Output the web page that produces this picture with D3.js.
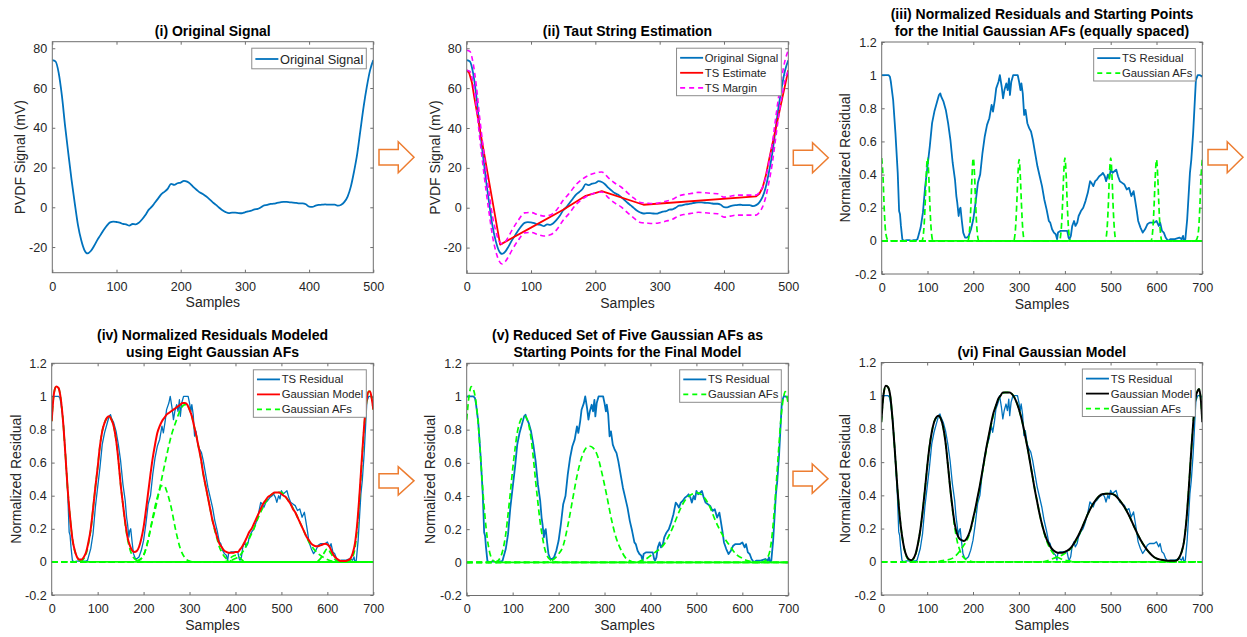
<!DOCTYPE html>
<html>
<head>
<meta charset="utf-8">
<script src="https://cdn.jsdelivr.net/npm/d3@7"></script>
<style>
  html, body { margin: 0; padding: 0; background: #fff; }
  svg { display: block; font-family: "Liberation Sans", Arial, Helvetica, sans-serif; }
</style>
</head>
<body>
<svg id="fig" width="1247" height="637"></svg>
<script>
/* Six-panel figure: PVDF signal -> taut string -> residual -> Gaussian AF model.
   All curves are [sample, value] pairs. */

// ---- axis ticks ----
var ticksSamples500 = [0, 100, 200, 300, 400, 500];
var ticksSamples700 = [0, 100, 200, 300, 400, 500, 600, 700];
var ticksSignal = [-20, 0, 20, 40, 60, 80];
var ticksResidual = [-0.2, 0, 0.2, 0.4, 0.6, 0.8, 1, 1.2];
var domSignal = [-32.9, 83.3];
var domResidual = [-0.2, 1.2];

// ---- (i)/(ii) original PVDF signal (mV) ----
var signal = [[0,74],[5,73.4],[10,67.5],[15,56],[20,40.7],[25,27],[30,13.8],[35,2],[40,-9],[45,-16.5],[50,-21.5],[55,-23.2],[60,-22],[65,-19.5],[70,-16.5],[75,-14],[80,-11.4],[85,-9.2],[90,-7.6],[95,-7.2],[100,-7.4],[105,-7.7],[110,-8.4],[115,-8.6],[120,-9.2],[125,-8.4],[130,-8.6],[135,-7.7],[140,-6],[145,-3.9],[150,-1.3],[155,0.3],[160,2.4],[165,4.5],[170,6.6],[175,7.9],[180,9.4],[185,11.8],[190,11.3],[195,12.1],[200,12.4],[205,13.3],[210,12.9],[215,11.8],[220,10.1],[225,8.7],[230,7.4],[235,6.6],[240,5.4],[245,4],[250,2.5],[255,1.2],[260,-0.2],[265,-1.5],[270,-2.4],[275,-2.9],[280,-2.7],[285,-2.7],[290,-2.9],[295,-3],[300,-2.5],[305,-2],[310,-1.7],[315,-1],[320,-0.8],[325,0],[330,1],[335,1.2],[340,1.7],[345,1.8],[350,2.2],[355,2.5],[360,2.7],[365,2.7],[370,2.5],[375,2.4],[380,2.2],[385,2],[390,2],[395,1.5],[400,0.3],[405,0.2],[410,0.8],[415,1.2],[420,1.3],[425,1.5],[430,1.3],[435,1.3],[440,1.3],[445,0.8],[450,1.3],[455,2.7],[460,5.4],[465,10.4],[470,18],[475,27],[480,39],[485,50.8],[490,60.8],[495,69],[500,74]];

// ---- (ii) taut string estimate and margins ----
var tsEstimate = [[0,69],[4,67.5],[8,63],[12,55],[52,-18.5],[100,-10],[150,-1],[185,6],[210,8.3],[275,1.5],[450,5.7],[455,7],[460,10],[465,16],[470,24],[480,39],[490,54],[500,69]];
var tsMarginUpper = [[0,79],[5,78.4],[10,72.5],[15,61],[20,45.7],[25,32],[30,18.8],[35,7],[40,-4],[45,-11.5],[50,-16.5],[55,-18.2],[60,-17],[65,-14.5],[70,-11.5],[80,-6.4],[90,-2.6],[100,-2.4],[110,-3.4],[120,-4.2],[130,-3.6],[140,-1],[150,3.7],[160,7.4],[170,11.6],[180,14.4],[190,16.3],[200,17.4],[210,17.9],[220,15.1],[230,12.4],[240,10.4],[250,7.5],[260,4.8],[270,2.6],[280,2.3],[290,2.1],[300,2.5],[310,3.3],[320,4.2],[330,6],[340,6.7],[350,7.2],[360,7.7],[370,7.5],[380,7.2],[390,7],[400,5.3],[410,5.8],[420,6.3],[430,6.3],[440,6.3],[450,6.3],[455,7.7],[460,10.4],[465,15.4],[470,23],[475,32],[480,44],[485,55.8],[490,65.8],[495,74],[500,79]];
var tsMarginLower = [[0,69],[5,68.4],[10,62.5],[15,51],[20,35.7],[25,22],[30,8.8],[35,-3],[40,-14],[45,-21.5],[50,-26.5],[55,-28.2],[60,-27],[65,-24.5],[70,-21.5],[80,-16.4],[90,-12.6],[100,-12.4],[110,-13.4],[120,-14.2],[130,-13.6],[140,-11],[150,-6.3],[160,-2.6],[170,1.6],[180,4.4],[190,6.3],[200,7.4],[210,7.9],[220,5.1],[230,2.4],[240,0.4],[250,-2.5],[260,-5.2],[270,-7.4],[280,-7.7],[290,-7.9],[300,-7.5],[310,-6.7],[320,-5.8],[330,-4],[340,-3.3],[350,-2.8],[360,-2.3],[370,-2.5],[380,-2.8],[390,-3],[400,-4.7],[410,-4.2],[420,-3.7],[430,-3.7],[440,-3.7],[450,-3.7],[455,-2.3],[460,0.4],[465,5.4],[470,13],[475,22],[480,34],[485,45.8],[490,55.8],[495,64],[500,69]];

// ---- (iii)-(vi) normalized TS residual ----
var tsResidual = [[0,1],[5,1],[10,1],[15,1],[18,0.99],[20,0.96],[25,0.85],[30,0.65],[35,0.41],[38,0.18],[40,0.16],[42,0.09],[45,0.01],[48,0],[55,0.005],[60,0.005],[65,0],[70,0.005],[75,0.005],[78,0.01],[80,0.03],[85,0.08],[90,0.17],[95,0.33],[100,0.45],[105,0.57],[110,0.71],[115,0.78],[120,0.83],[125,0.88],[128,0.89],[130,0.87],[135,0.84],[140,0.79],[145,0.71],[150,0.61],[155,0.47],[160,0.37],[163,0.27],[165,0.23],[168,0.15],[170,0.19],[172,0.2],[175,0.12],[178,0.05],[182,0.02],[186,0.02],[190,0.03],[195,0.07],[200,0.13],[205,0.23],[210,0.35],[215,0.4],[220,0.53],[225,0.63],[230,0.7],[235,0.74],[240,0.82],[243,0.78],[247,0.85],[250,0.92],[255,0.96],[258,1],[262,0.93],[265,0.86],[268,0.91],[272,0.95],[275,0.91],[278,0.98],[280,0.88],[283,0.96],[287,1],[292,1],[297,1],[300,0.96],[303,0.91],[305,0.95],[308,0.89],[311,0.76],[314,0.79],[318,0.71],[322,0.68],[326,0.66],[330,0.61],[335,0.53],[340,0.45],[345,0.39],[350,0.33],[355,0.25],[360,0.19],[365,0.12],[368,0.11],[372,0.07],[376,0.05],[380,0.04],[383,0.01],[385,0.05],[390,0.06],[395,0.06],[400,0.06],[405,0.06],[408,0.02],[410,0.01],[413,0.03],[416,0.09],[420,0.12],[423,0.09],[427,0.11],[430,0.15],[435,0.18],[440,0.2],[445,0.24],[450,0.29],[455,0.36],[458,0.35],[462,0.33],[466,0.36],[470,0.37],[475,0.39],[480,0.4],[483,0.41],[487,0.39],[490,0.36],[494,0.4],[497,0.38],[500,0.43],[504,0.41],[508,0.42],[512,0.43],[516,0.39],[520,0.36],[525,0.35],[530,0.34],[535,0.31],[540,0.32],[545,0.27],[550,0.3],[553,0.25],[557,0.18],[560,0.12],[565,0.08],[570,0.05],[575,0.07],[580,0.1],[585,0.11],[590,0.11],[595,0.11],[600,0.12],[605,0.09],[608,0.11],[612,0.06],[616,0.05],[620,0.02],[625,0],[630,0.01],[635,0.01],[640,0.01],[645,0.015],[650,0.02],[655,0.01],[658,0.03],[660,0],[663,0.01],[667,0.13],[670,0.27],[673,0.41],[676,0.49],[680,0.65],[683,0.81],[686,0.97],[690,1],[695,1],[700,0.99]];

// ---- (iii) eight equally spaced initial Gaussian AFs ----
var iniAF0 = [[0,0.5],[3,0.38],[5,0.23],[8,0.07],[12,0.01],[15,0],[700,0]];
var iniAF100 = [[0,0],[88,0],[92,0.07],[95,0.23],[97,0.38],[100,0.5],[103,0.38],[105,0.23],[108,0.07],[112,0],[700,0]];
var iniAF200 = [[0,0],[188,0],[192,0.07],[195,0.23],[197,0.38],[200,0.5],[203,0.38],[205,0.23],[208,0.07],[212,0],[700,0]];
var iniAF300 = [[0,0],[288,0],[292,0.07],[295,0.23],[297,0.37],[300,0.49],[303,0.37],[305,0.23],[308,0.07],[312,0],[700,0]];
var iniAF400 = [[0,0],[388,0],[392,0.07],[395,0.23],[397,0.38],[400,0.5],[403,0.38],[405,0.23],[408,0.07],[412,0],[700,0]];
var iniAF500 = [[0,0],[488,0],[492,0.07],[495,0.23],[497,0.38],[500,0.5],[503,0.38],[505,0.23],[508,0.07],[512,0],[700,0]];
var iniAF600 = [[0,0],[588,0],[592,0.07],[595,0.23],[597,0.37],[600,0.49],[603,0.37],[605,0.23],[608,0.07],[612,0],[700,0]];
var iniAF700 = [[0,0],[685,0],[688,0.01],[692,0.07],[695,0.23],[697,0.37],[700,0.49]];

// ---- (iv) eight-AF model ----
var eightModel = [[0,0.85],[5,1.02],[10,1.06],[15,1.05],[20,0.98],[25,0.84],[30,0.64],[35,0.43],[40,0.27],[45,0.14],[50,0.07],[55,0.03],[60,0.015],[65,0.015],[70,0.03],[75,0.06],[80,0.12],[85,0.2],[90,0.32],[95,0.45],[100,0.57],[105,0.7],[110,0.79],[115,0.84],[120,0.87],[125,0.88],[130,0.86],[135,0.82],[140,0.74],[145,0.62],[150,0.47],[155,0.35],[160,0.24],[165,0.15],[170,0.1],[175,0.07],[180,0.06],[185,0.065],[190,0.09],[195,0.14],[200,0.21],[205,0.31],[210,0.42],[215,0.53],[220,0.63],[225,0.71],[230,0.78],[235,0.82],[240,0.85],[245,0.87],[250,0.89],[255,0.9],[260,0.91],[265,0.92],[270,0.93],[275,0.94],[280,0.95],[285,0.96],[290,0.96],[295,0.95],[300,0.92],[305,0.88],[310,0.82],[315,0.76],[320,0.69],[325,0.62],[330,0.53],[335,0.46],[340,0.39],[345,0.32],[350,0.25],[355,0.2],[360,0.15],[365,0.11],[370,0.09],[375,0.07],[380,0.06],[385,0.055],[390,0.055],[395,0.055],[400,0.06],[405,0.06],[410,0.075],[415,0.095],[420,0.12],[425,0.15],[430,0.18],[435,0.2],[440,0.23],[445,0.26],[450,0.29],[455,0.32],[460,0.35],[465,0.37],[470,0.39],[475,0.4],[480,0.41],[485,0.42],[490,0.42],[495,0.42],[500,0.41],[505,0.4],[510,0.39],[515,0.37],[520,0.35],[525,0.32],[530,0.3],[535,0.27],[540,0.24],[545,0.21],[550,0.18],[555,0.15],[560,0.13],[565,0.11],[570,0.1],[575,0.095],[580,0.095],[585,0.1],[590,0.105],[595,0.11],[600,0.105],[605,0.09],[610,0.06],[615,0.035],[620,0.02],[625,0.01],[630,0.005],[635,0.005],[640,0.005],[645,0.01],[650,0.02],[655,0.05],[660,0.11],[665,0.23],[670,0.41],[675,0.62],[680,0.82],[685,0.97],[690,1.03],[693,1.03],[697,0.98],[700,0.92]];
var eightAF1 = [[0,0.85],[5,1.02],[10,1.06],[15,1.05],[20,0.98],[25,0.84],[30,0.64],[35,0.43],[40,0.27],[45,0.14],[50,0.07],[55,0.03],[60,0.01],[70,0],[700,0]];
var eightAF2 = [[0,0],[60,0],[65,0.005],[70,0.02],[75,0.05],[80,0.11],[85,0.19],[90,0.32],[95,0.45],[100,0.57],[105,0.7],[110,0.79],[115,0.84],[120,0.87],[125,0.88],[130,0.86],[135,0.82],[140,0.74],[145,0.62],[150,0.47],[155,0.35],[160,0.23],[165,0.14],[170,0.08],[175,0.04],[180,0.02],[190,0.005],[200,0],[700,0]];
var eightAF3 = [[0,0],[185,0],[190,0.01],[200,0.04],[210,0.13],[220,0.27],[230,0.39],[240,0.46],[245,0.46],[250,0.43],[260,0.33],[270,0.19],[280,0.08],[290,0.025],[300,0.005],[310,0],[700,0]];
var eightAF4 = [[0,0],[180,0],[190,0.01],[200,0.04],[206,0.09],[215,0.2],[228,0.35],[240,0.51],[250,0.64],[260,0.76],[272,0.86],[280,0.92],[290,0.95],[295,0.95],[300,0.92],[305,0.88],[310,0.82],[315,0.76],[320,0.69],[325,0.62],[330,0.53],[335,0.46],[340,0.39],[345,0.32],[350,0.25],[355,0.19],[360,0.14],[365,0.09],[370,0.06],[375,0.035],[380,0.02],[390,0.005],[400,0],[700,0]];
var eightAF5 = [[0,0],[375,0],[385,0.01],[392,0.03],[400,0.04],[408,0.03],[415,0.01],[425,0],[700,0]];
var eightAF6 = [[0,0],[380,0],[390,0.01],[400,0.02],[410,0.04],[420,0.08],[430,0.14],[440,0.2],[450,0.27],[460,0.33],[470,0.38],[480,0.41],[490,0.42],[500,0.42],[510,0.39],[520,0.35],[530,0.3],[540,0.24],[550,0.18],[560,0.12],[570,0.08],[580,0.05],[590,0.03],[600,0.015],[610,0.005],[620,0],[700,0]];
var eightAF7 = [[0,0],[575,0],[585,0.02],[592,0.05],[600,0.08],[608,0.05],[615,0.02],[625,0],[700,0]];
var eightAF8 = [[0,0],[640,0],[650,0.01],[655,0.03],[660,0.08],[665,0.2],[670,0.39],[675,0.6],[680,0.81],[685,0.96],[690,1.03],[693,1.03],[697,0.98],[700,0.92]];

// ---- (v) reduced set of five AFs ----
var fiveAF1 = [[0,0.86],[5,1],[10,1.06],[15,1.04],[20,0.97],[25,0.84],[30,0.64],[35,0.44],[40,0.27],[45,0.14],[50,0.06],[55,0.02],[60,0.005],[70,0],[700,0]];
var fiveAF2 = [[0,0],[60,0],[65,0.005],[70,0.015],[75,0.04],[80,0.09],[85,0.17],[90,0.29],[95,0.42],[100,0.56],[105,0.68],[110,0.78],[115,0.84],[120,0.87],[127,0.88],[135,0.83],[140,0.75],[145,0.63],[150,0.49],[155,0.36],[160,0.24],[165,0.15],[170,0.08],[175,0.04],[180,0.02],[190,0.005],[200,0],[700,0]];
var fiveAF3 = [[0,0],[170,0],[180,0.005],[190,0.02],[200,0.05],[210,0.1],[220,0.22],[230,0.37],[240,0.52],[250,0.63],[260,0.69],[268,0.7],[275,0.69],[285,0.64],[295,0.53],[305,0.4],[315,0.26],[325,0.15],[335,0.08],[345,0.03],[355,0.01],[370,0],[700,0]];
var fiveAF4 = [[0,0],[370,0],[380,0.01],[390,0.02],[400,0.04],[410,0.06],[420,0.08],[430,0.11],[440,0.16],[450,0.22],[460,0.29],[470,0.35],[480,0.39],[490,0.41],[500,0.42],[510,0.41],[520,0.38],[530,0.33],[540,0.26],[550,0.2],[560,0.15],[570,0.11],[580,0.07],[590,0.04],[600,0.025],[610,0.01],[620,0.005],[630,0],[700,0]];
var fiveAF5 = [[0,0],[640,0],[650,0.01],[655,0.03],[660,0.07],[665,0.17],[670,0.33],[675,0.52],[680,0.72],[685,0.9],[690,1],[693,1.03],[697,1],[700,0.95]];

// ---- (vi) final Gaussian model and its AFs ----
var finalModel = [[0,0.84],[5,1.01],[10,1.06],[15,1.05],[20,0.99],[25,0.84],[30,0.65],[35,0.45],[40,0.28],[45,0.16],[50,0.08],[55,0.035],[60,0.015],[65,0.01],[70,0.02],[75,0.05],[80,0.11],[85,0.19],[90,0.3],[95,0.43],[100,0.57],[105,0.69],[110,0.78],[115,0.84],[120,0.87],[125,0.88],[130,0.86],[135,0.81],[140,0.72],[145,0.59],[150,0.45],[155,0.33],[160,0.23],[165,0.17],[170,0.14],[175,0.13],[180,0.125],[185,0.135],[190,0.16],[195,0.2],[200,0.26],[205,0.32],[210,0.39],[215,0.46],[220,0.54],[225,0.62],[230,0.7],[235,0.77],[240,0.84],[245,0.9],[250,0.94],[255,0.98],[260,1],[265,1.02],[270,1.02],[275,1.02],[280,1.02],[285,1.01],[290,0.99],[295,0.96],[300,0.92],[305,0.87],[310,0.81],[315,0.74],[320,0.67],[325,0.59],[330,0.51],[335,0.43],[340,0.36],[345,0.29],[350,0.23],[355,0.18],[360,0.14],[365,0.11],[370,0.085],[375,0.07],[380,0.06],[385,0.055],[390,0.055],[395,0.055],[400,0.06],[405,0.065],[410,0.075],[415,0.09],[420,0.11],[425,0.135],[430,0.16],[440,0.22],[450,0.285],[460,0.34],[470,0.38],[480,0.405],[490,0.41],[500,0.41],[510,0.4],[520,0.37],[530,0.33],[540,0.28],[550,0.22],[560,0.16],[570,0.11],[580,0.07],[590,0.04],[600,0.02],[610,0.012],[620,0.008],[630,0.006],[640,0.006],[645,0.01],[650,0.027],[655,0.06],[660,0.12],[665,0.24],[670,0.42],[675,0.63],[680,0.83],[685,0.98],[690,1.03],[693,1.04],[697,0.97],[700,0.84]];
var finalAF1 = [[0,0.84],[5,1.01],[10,1.06],[15,1.05],[20,0.99],[25,0.84],[30,0.65],[35,0.45],[40,0.28],[45,0.16],[50,0.08],[55,0.03],[60,0.01],[70,0],[700,0]];
var finalAF2 = [[0,0],[55,0],[60,0.005],[65,0.005],[70,0.015],[75,0.045],[80,0.105],[85,0.19],[90,0.3],[95,0.43],[100,0.57],[105,0.69],[110,0.78],[115,0.84],[120,0.87],[125,0.88],[130,0.86],[135,0.81],[140,0.72],[145,0.59],[150,0.45],[155,0.32],[160,0.21],[165,0.13],[170,0.08],[175,0.045],[180,0.025],[190,0.008],[200,0],[700,0]];
var finalAF3 = [[0,0],[120,0],[130,0.005],[140,0.01],[150,0.015],[160,0.03],[170,0.06],[180,0.1],[190,0.15],[200,0.25],[210,0.38],[220,0.53],[230,0.69],[240,0.83],[250,0.94],[260,1],[270,1.02],[280,1.02],[290,0.99],[300,0.92],[310,0.81],[320,0.67],[330,0.51],[340,0.36],[350,0.23],[360,0.13],[370,0.07],[380,0.035],[390,0.02],[400,0.01],[410,0.005],[420,0],[700,0]];
var finalAF4 = [[0,0],[350,0],[360,0.005],[370,0.015],[380,0.025],[390,0.035],[400,0.05],[410,0.07],[420,0.105],[430,0.155],[440,0.22],[450,0.285],[460,0.34],[470,0.38],[480,0.405],[490,0.41],[500,0.41],[510,0.4],[520,0.37],[530,0.33],[540,0.28],[550,0.22],[560,0.16],[570,0.11],[580,0.07],[590,0.04],[600,0.02],[610,0.01],[620,0.005],[630,0.002],[640,0],[700,0]];
var finalAF5 = [[0,0],[630,0],[640,0.004],[645,0.01],[650,0.027],[655,0.06],[660,0.12],[665,0.24],[670,0.42],[675,0.63],[680,0.83],[685,0.98],[690,1.03],[693,1.04],[697,0.97],[700,0.84]];

// ---- styles ----
var BLUE = "#0072BD", RED = "#FF0000", MAGENTA = "#FF00FF", GREEN = "#00FF00", BLACK = "#000000";
var AXIS = "#6e6e6e", INK = "#262626";
var sigStyle = { color: BLUE, width: 1.8 };
var resStyle = { color: BLUE, width: 1.8 };
var resThin = { color: BLUE, width: 1.3 };
var afStyle = { color: GREEN, width: 1.7, dash: "6,3.5" };

var svg = d3.select("#fig");
var defs = svg.append("defs");
var fmt = function (d) { return String(+d.toFixed(1)); };

function panel(p) {
  var x = d3.scaleLinear().domain(p.xd).range([p.l, p.r]);
  var y = d3.scaleLinear().domain(p.yd).range([p.b, p.t]);
  var g = svg.append("g");

  defs.append("clipPath").attr("id", "clip-" + p.key).append("rect")
    .attr("x", p.l).attr("y", p.t).attr("width", p.r - p.l).attr("height", p.b - p.t);

  // axes: inward ticks on all four sides (box on)
  function style(ax) {
    ax.select(".domain").remove();
    ax.selectAll(".tick line").attr("stroke", AXIS).attr("stroke-width", 1);
    ax.selectAll(".tick text").attr("fill", INK).attr("font-size", 12.6)
      .attr("font-family", '"Liberation Sans", Arial, sans-serif');
  }
  style(g.append("g").attr("transform", "translate(0," + p.b + ")")
    .call(d3.axisBottom(x).tickValues(p.xt).tickSize(-3).tickPadding(9).tickFormat(fmt)));
  style(g.append("g").attr("transform", "translate(0," + p.t + ")")
    .call(d3.axisTop(x).tickValues(p.xt).tickSize(-3).tickFormat("")));
  style(g.append("g").attr("transform", "translate(" + p.l + ",0)")
    .call(d3.axisLeft(y).tickValues(p.yt).tickSize(-3).tickPadding(5).tickFormat(fmt)));
  style(g.append("g").attr("transform", "translate(" + p.r + ",0)")
    .call(d3.axisRight(y).tickValues(p.yt).tickSize(-3).tickFormat("")));

  // series: legend keeps the listed order, models are painted on top
  var plot = g.append("g").attr("clip-path", "url(#clip-" + p.key + ")");
  var drawOrder = p.series.slice().sort(function (a, b) { return (a.top ? 1 : 0) - (b.top ? 1 : 0); });
  drawOrder.forEach(function (s) {
    var line = d3.line().x(function (d) { return x(d[0]); }).y(function (d) { return y(d[1]); })
      .curve(s.smooth ? d3.curveMonotoneX : d3.curveLinear);
    plot.append("path").attr("d", line(s.data)).attr("fill", "none")
      .attr("stroke", s.style.color).attr("stroke-width", s.style.width)
      .attr("stroke-dasharray", s.style.dash || null)
      .attr("stroke-linejoin", "round");
  });

  g.append("rect").attr("x", p.l).attr("y", p.t).attr("width", p.r - p.l).attr("height", p.b - p.t)
    .attr("fill", "none").attr("stroke", AXIS).attr("stroke-width", 1);

  // title
  var cx = (p.l + p.r) / 2;
  p.title.forEach(function (t, i) {
    g.append("text").attr("x", cx).attr("y", p.t - 6 - (p.title.length - 1 - i) * 17.5)
      .attr("text-anchor", "middle").attr("font-size", 14).attr("font-weight", "bold")
      .attr("fill", "#000").text(t);
  });
  // axis labels
  g.append("text").attr("x", cx).attr("y", p.b + 34.5).attr("text-anchor", "middle")
    .attr("font-size", 14).attr("fill", INK).text("Samples");
  g.append("text").attr("transform", "translate(" + (p.l - p.ylOff) + "," + ((p.t + p.b) / 2) + ") rotate(-90)")
    .attr("dy", "0.35em").attr("text-anchor", "middle").attr("font-size", 14).attr("fill", INK).text(p.ylabel);

  // legend, anchored to the upper-right corner
  var items = p.series.filter(function (s) { return s.label; });
  var lg = g.append("g");
  var box = lg.append("rect").attr("fill", "#fff").attr("stroke", "#8c8c8c").attr("stroke-width", 1);
  var first = items.length === 1 ? 10.8 : 9.6, maxW = 0, fs = p.legendFont || 11.3;
  items.forEach(function (s, i) {
    var cy = first + i * 15;
    lg.append("line").attr("x1", 3.6).attr("x2", 26.6).attr("y1", cy).attr("y2", cy)
      .attr("stroke", s.style.color).attr("stroke-width", s.style.dash ? 1.7 : 1.8)
      .attr("stroke-dasharray", s.style.dash ? "5,4" : null);
    var t = lg.append("text").attr("x", 28.3).attr("y", cy + fs * 0.36).attr("font-size", fs)
      .attr("fill", INK).text(s.label);
    maxW = Math.max(maxW, t.node().getComputedTextLength());
  });
  var w = 28.3 + maxW + 3, h = items.length === 1 ? 20.6 : 17.5 + 15 * (items.length - 1);
  box.attr("width", w).attr("height", h);
  lg.attr("transform", "translate(" + (p.r - 7 - w) + "," + (p.t + 6.5) + ")");
}

function arrow(x0, y0, x1, y1) {
  var w = x1 - x0, h = y1 - y0, cy = (y0 + y1) / 2, sx = x0 + w * 0.55, sh = h * 0.25;
  svg.append("path")
    .attr("d", "M" + x0 + "," + (cy - sh) + "H" + sx + "V" + y0 + "L" + x1 + "," + cy +
      "L" + sx + "," + y1 + "V" + (cy + sh) + "H" + x0 + "Z")
    .attr("fill", "#fff").attr("stroke", "#ED7D31").attr("stroke-width", 1.5).attr("stroke-linejoin", "miter");
}

function afs(list, first) {
  return list.map(function (d, i) {
    return { data: d, style: afStyle, smooth: true, label: i === 0 ? first : null };
  });
}

panel({ key: "i", l: 52.3, r: 373.3, t: 41.7, b: 272.7, xd: [0, 500], yd: domSignal,
  xt: ticksSamples500, yt: ticksSignal, ylabel: "PVDF Signal (mV)", ylOff: 32, legendFont: 12.8,
  title: ["(i) Original Signal"],
  series: [{ data: signal, style: sigStyle, smooth: true, label: "Original Signal" }] });

panel({ key: "ii", l: 466.7, r: 788.3, t: 41.7, b: 273.3, xd: [0, 500], yd: domSignal,
  xt: ticksSamples500, yt: ticksSignal, ylabel: "PVDF Signal (mV)", ylOff: 32,
  title: ["(ii) Taut String Estimation"],
  series: [
    { data: signal, style: sigStyle, smooth: true, label: "Original Signal" },
    { data: tsEstimate, style: { color: RED, width: 1.8 }, label: "TS Estimate" },
    { data: tsMarginUpper, style: { color: MAGENTA, width: 1.6, dash: "5,3.5" }, smooth: true, label: "TS Margin" },
    { data: tsMarginLower, style: { color: MAGENTA, width: 1.6, dash: "5,3.5" }, smooth: true }
  ] });

panel({ key: "iii", l: 881.7, r: 1202.3, t: 42, b: 274, xd: [0, 700], yd: domResidual,
  xt: ticksSamples700, yt: ticksResidual, ylabel: "Normalized Residual", ylOff: 36.5,
  title: ["(iii) Normalized Residuals and Starting Points", "for the Initial Gaussian AFs (equally spaced)"],
  series: [{ data: tsResidual, style: resStyle, label: "TS Residual" }]
    .concat(afs([iniAF0, iniAF100, iniAF200, iniAF300, iniAF400, iniAF500, iniAF600, iniAF700], "Gaussian AFs")) });

panel({ key: "iv", l: 51.7, r: 373.3, t: 363.3, b: 595, xd: [0, 700], yd: domResidual,
  xt: ticksSamples700, yt: ticksResidual, ylabel: "Normalized Residual", ylOff: 36,
  title: ["(iv) Normalized Residuals Modeled", "using Eight Gaussian AFs"],
  series: [{ data: tsResidual, style: resThin, label: "TS Residual" },
    { data: eightModel, style: { color: RED, width: 2 }, smooth: true, top: true, label: "Gaussian Model" }]
    .concat(afs([eightAF1, eightAF2, eightAF3, eightAF4, eightAF5, eightAF6, eightAF7, eightAF8], "Gaussian AFs")) });

panel({ key: "v", l: 466.7, r: 788.3, t: 363.3, b: 595.5, xd: [0, 700], yd: domResidual,
  xt: ticksSamples700, yt: ticksResidual, ylabel: "Normalized Residual", ylOff: 36.5,
  title: ["(v) Reduced Set of Five Gaussian AFs as", "Starting Points for the Final Model"],
  series: [{ data: tsResidual, style: resStyle, label: "TS Residual" }]
    .concat(afs([fiveAF1, fiveAF2, fiveAF3, fiveAF4, fiveAF5], "Gaussian AFs")) });

panel({ key: "vi", l: 881.3, r: 1202.3, t: 362.5, b: 595, xd: [0, 700], yd: domResidual,
  xt: ticksSamples700, yt: ticksResidual, ylabel: "Normalized Residual", ylOff: 36,
  title: ["(vi) Final Gaussian Model"],
  series: [{ data: tsResidual, style: resThin, label: "TS Residual" },
    { data: finalModel, style: { color: BLACK, width: 2 }, smooth: true, top: true, label: "Gaussian Model" }]
    .concat(afs([finalAF1, finalAF2, finalAF3, finalAF4, finalAF5], "Gaussian AFs")) });

arrow(379, 141.7, 414, 172.7);
arrow(793.3, 142.7, 828.3, 172.7);
arrow(1208, 141.7, 1243, 172.7);
arrow(379, 466.7, 414, 495);
arrow(793, 464, 828, 493.3);
</script>
</body>
</html>
